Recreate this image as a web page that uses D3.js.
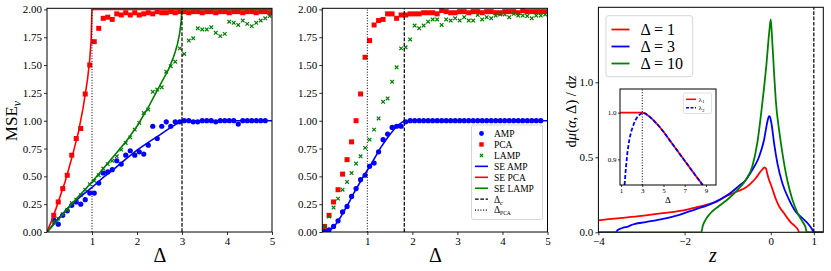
<!DOCTYPE html>
<html>
<head>
<meta charset="utf-8">
<script src="https://cdn.jsdelivr.net/npm/d3@7"></script>
<style>
  body { margin: 0; background: #fff; }
  svg { font-family: "Liberation Serif", "DejaVu Serif", serif; }
</style>
</head>
<body>
<svg id="chart" width="831" height="271"></svg>
<script>
// noise levels on the grid used by the simulations
const deltas = [0.05, 0.15, 0.25, 0.35, 0.45, 0.55, 0.65, 0.75, 0.85, 0.95,
  1.05, 1.15, 1.25, 1.35, 1.45, 1.55, 1.65, 1.75, 1.85, 1.95,
  2.05, 2.15, 2.25, 2.35, 2.45, 2.55, 2.65, 2.75, 2.85, 2.95,
  3.05, 3.15, 3.25, 3.35, 3.45, 3.55, 3.65, 3.75, 3.85, 3.95,
  4.05, 4.15, 4.25, 4.35, 4.45, 4.55, 4.65, 4.75, 4.85, 4.95];

// panel 1 (left)
const amp1 = [null, 0.11, 0.07, 0.15, 0.19, 0.24, 0.27, 0.25, 0.29, 0.35,
  0.35, 0.44, 0.53, 0.54, 0.56, 0.64, 0.61, 0.69, 0.73, 0.69,
  0.72, 0.70, 0.78, 0.95, 0.84, 0.95, 0.99, 0.95, 0.99, 0.99,
  1.00, 1.00, 0.99, 0.99, 1.00, 1.00, 1.00, 0.99, 1.00, 1.00,
  1.00, 1.00, 0.97, 1.00, 1.00, 1.00, 1.00, 1.00, 1.00, null];
const pca1 = [null, 0.15, 0.27, 0.39, 0.51, 0.69, 0.84, 0.93, 1.24, 1.50,
  1.71, 1.83, 1.92, 1.93, 1.91, 1.96, 1.95, 1.97, 1.95, 1.97,
  1.95, 1.96, 1.97, 1.96, 1.98, 1.97, 1.97, 1.98, 1.97, 1.98,
  1.98, 1.97, 1.98, 1.98, 1.97, 1.98, 1.98, 1.97, 1.98, 1.98,
  1.97, 1.98, 1.98, 1.97, 1.98, 1.98, 1.97, 1.98, 1.98, 1.97];
const lamp1 = [null, 0.09, 0.12, 0.16, 0.20, 0.26, 0.29, 0.33, 0.38, 0.43,
  0.46, 0.51, 0.57, 0.61, 0.64, 0.68, 0.74, 0.80, 0.85, 0.92,
  0.98, 1.07, 1.10, 1.26, 1.28, 1.30, 1.44, 1.49, 1.53, 1.65,
  1.60, 1.72, 1.74, 1.83, 1.82, 1.82, 1.84, 1.79, 1.76, 1.78,
  1.89, 1.88, 1.86, 1.90, 1.87, 1.85, 1.88, 1.90, 1.92, 1.94];
const seAmp1 = [[0, 0], [0.25, 0.12], [0.5, 0.23], [0.75, 0.32], [1, 0.40], [1.25, 0.49],
  [1.5, 0.57], [1.75, 0.655], [2, 0.735], [2.25, 0.805], [2.5, 0.87], [2.75, 0.94],
  [3, 1.0], [5, 1.0]];
const sePca1 = [[0, 0], [0.1, 0.1], [0.2, 0.21], [0.3, 0.33], [0.4, 0.45], [0.5, 0.59],
  [0.6, 0.74], [0.7, 0.90], [0.8, 1.11], [0.9, 1.37], [0.95, 1.55], [0.98, 1.72],
  [1.0, 2.0], [5, 2.0]];
const seLamp1 = [[0, 0], [0.25, 0.11], [0.5, 0.23], [0.75, 0.34], [1, 0.45], [1.25, 0.57],
  [1.5, 0.69], [1.75, 0.81], [2, 0.95], [2.25, 1.12], [2.5, 1.31], [2.7, 1.46],
  [2.8, 1.56], [2.85, 1.62], [2.9, 1.69], [2.95, 1.79], [2.98, 1.89], [3, 2.0], [5, 2.0]];
const deltaPca1 = 1, deltaC1 = 3;

// panel 2 (middle)
const amp2 = [0.01, 0.02, 0.05, 0.10, 0.18, 0.23, 0.32, 0.39, 0.47, 0.51,
  0.59, 0.62, 0.72, 0.83, 0.88, 0.94, 0.95, 0.95, 0.99, 1.00,
  1.00, 1.00, 1.00, 1.00, 1.00, 1.00, 1.00, 1.00, 1.00, 1.00,
  1.00, 1.00, 1.00, 1.00, 1.00, 1.00, 1.00, 1.00, 1.00, 1.00,
  1.00, 1.00, 1.00, 1.00, 1.00, 1.00, 1.00, 1.00, 1.00, null];
const pca2 = [0.05, 0.15, 0.27, 0.38, 0.52, 0.65, 0.81, 1.00, 1.24, 1.57,
  1.72, 1.86, 1.90, 1.91, 1.96, 1.96, 1.92, 1.95, 1.95, 1.96,
  1.96, 1.96, 1.97, 1.97, 1.97, 1.96, 1.99, 1.98, 1.97, 1.97,
  1.98, 1.98, 1.97, 1.98, 1.98, 1.97, 1.98, 1.98, 1.97, 1.97,
  1.98, 1.98, 1.98, 1.97, 1.99, 1.98, 1.98, 1.98, 1.98, 1.98];
const lamp2 = [0.05, 0.14, 0.22, 0.30, 0.38, 0.45, 0.53, 0.615, 0.68, 0.756,
  0.83, 0.92, 1.02, 1.17, 1.20, 1.35, 1.48, 1.65, 1.66, 1.73,
  1.855, 1.83, 1.855, 1.89, 1.91, 1.91, 1.86, 1.91, 1.90, 1.92,
  1.90, 1.93, 1.90, 1.90, 1.95, 1.91, 1.93, 1.92, 1.945, 1.955,
  1.955, 1.93, 1.96, 1.945, 1.945, 1.94, 1.92, 1.945, 1.945, 1.955];
const seAmp2 = [[0, 0], [0.1, 0.005], [0.2, 0.025], [0.3, 0.07], [0.4, 0.13], [0.5, 0.20],
  [0.6, 0.27], [0.7, 0.35], [0.8, 0.42], [0.9, 0.49], [1.0, 0.555], [1.1, 0.62],
  [1.2, 0.69], [1.3, 0.76], [1.4, 0.82], [1.5, 0.875], [1.6, 0.925], [1.7, 0.965],
  [1.82, 1.0], [5, 1.0]];
const deltaPca2 = 1, deltaC2 = 1.82;

// panel 3 (right): spectral densities
const density1 = [[-4.0, 0.08], [-3.5, 0.095], [-3.0, 0.11], [-2.5, 0.128], [-2.0, 0.148],
  [-1.75, 0.165], [-1.5, 0.183], [-1.25, 0.205], [-1.0, 0.245], [-0.75, 0.275],
  [-0.58, 0.298], [-0.45, 0.33], [-0.35, 0.36], [-0.25, 0.40], [-0.19, 0.42],
  [-0.15, 0.433], [-0.11, 0.425], [-0.08, 0.39], [-0.04, 0.35], [0, 0.32],
  [0.06, 0.27], [0.12, 0.22], [0.2, 0.17], [0.31, 0.127], [0.4, 0.09], [0.47, 0.064],
  [0.55, 0.045], [0.6, 0.03], [0.63, 0.018], [0.66, 0], [1.22, 0]];
const density3 = [[-4.0, 0], [-3.6, 0], [-3.55, 0.015], [-3.46, 0.027], [-3.3, 0.04],
  [-3.2, 0.052], [-2.9, 0.068], [-2.5, 0.09], [-2.14, 0.115], [-1.75, 0.153],
  [-1.36, 0.193], [-0.97, 0.255], [-0.74, 0.309], [-0.58, 0.349], [-0.43, 0.415],
  [-0.27, 0.504], [-0.156, 0.615], [-0.078, 0.737], [-0.04, 0.775], [-0.02, 0.77],
  [0.016, 0.727], [0.078, 0.593], [0.155, 0.46], [0.27, 0.327], [0.43, 0.215],
  [0.58, 0.137], [0.74, 0.093], [0.89, 0.049], [0.96, 0.02], [1.0, 0], [1.22, 0]];
const density10 = [[-4.0, 0], [-1.61, 0], [-1.58, 0.04], [-1.52, 0.08], [-1.4, 0.127],
  [-1.2, 0.175], [-0.97, 0.227], [-0.74, 0.293], [-0.58, 0.349], [-0.43, 0.437],
  [-0.31, 0.6], [-0.2, 0.85], [-0.1, 1.12], [-0.03, 1.35], [0, 1.42], [0.03, 1.3],
  [0.08, 1.05], [0.117, 0.88], [0.2, 0.67], [0.27, 0.53], [0.39, 0.34], [0.5, 0.22],
  [0.62, 0.13], [0.74, 0.07], [0.8, 0.04], [0.84, 0], [1.22, 0]];
const edgeZ = 1;

// inset: top eigenvalues
const lambda1 = [[0.9, 1.0], [3.0, 1.0], [3.3, 0.998], [3.6, 0.993], [4.0, 0.985],
  [4.5, 0.973], [5.0, 0.959], [6.0, 0.928], [7.0, 0.897], [8.0, 0.866], [8.7, 0.845]];
const lambda2 = [[1.33, 0.845], [1.45, 0.88], [1.6, 0.915], [1.8, 0.945], [2.0, 0.963],
  [2.3, 0.982], [2.6, 0.993], [3.0, 1.0], [3.3, 0.998], [3.6, 0.993], [4.0, 0.985],
  [4.5, 0.973], [5.0, 0.959], [6.0, 0.928], [7.0, 0.897], [8.0, 0.866], [8.7, 0.845]];
const insetDelta = 3;

const mseTicks = [0, 0.25, 0.5, 0.75, 1.0, 1.25, 1.5, 1.75, 2.0];
const deltaTicks = [1, 2, 3, 4, 5];
const zTicks = [-4, -2, 0, 1];
const densTicks = [0, 0.5, 1.0];
const insetXTicks = [1, 3, 5, 7, 9];
const insetYTicks = [0.9, 1.0];

const svg = d3.select('#chart');
const BLUE = '#0000ff', RED = '#ff0000', GREEN = '#008000';
const SERIF = '"Liberation Serif", "DejaVu Serif", serif';

function axes(g, x, y, xt, yt, xfmt, yfmt, fs, size) {
  const ax = g.append('g')
    .attr('transform', `translate(0,${y.range()[0]})`)
    .call(d3.axisBottom(x).tickValues(xt).tickFormat(xfmt).tickSize(size).tickPadding(size * 0.7));
  const ay = g.append('g')
    .attr('transform', `translate(${x.range()[0]},0)`)
    .call(d3.axisLeft(y).tickValues(yt).tickFormat(yfmt).tickSize(size).tickPadding(size * 0.7));
  [ax, ay].forEach(a => {
    a.attr('font-family', SERIF);
    a.select('.domain').remove();
    a.selectAll('text').style('font-size', fs + 'px').style('font-family', SERIF).attr('fill', '#000');
    a.selectAll('line').attr('stroke', '#000').attr('stroke-width', 0.8);
  });
}

function frame(g, x, y) {
  g.append('rect')
    .attr('x', x.range()[0]).attr('y', y.range()[1])
    .attr('width', x.range()[1] - x.range()[0])
    .attr('height', y.range()[0] - y.range()[1])
    .attr('fill', 'none').attr('stroke', '#000').attr('stroke-width', 1);
}

function clip(id, x, y) {
  svg.append('clipPath').attr('id', id).append('rect')
    .attr('x', x.range()[0]).attr('y', y.range()[1])
    .attr('width', x.range()[1] - x.range()[0])
    .attr('height', y.range()[0] - y.range()[1]);
  return `url(#${id})`;
}

function scatter(g, x, y, vals, kind, color) {
  const pts = deltas.map((d, i) => [d, vals[i]]).filter(p => p[1] != null);
  const sel = g.selectAll(null).data(pts).enter();
  if (kind === 'circle') {
    sel.append('circle').attr('cx', d => x(d[0])).attr('cy', d => y(d[1])).attr('r', 2.6).attr('fill', color);
  } else if (kind === 'square') {
    sel.append('rect').attr('x', d => x(d[0]) - 2.5).attr('y', d => y(d[1]) - 2.5)
      .attr('width', 5).attr('height', 5).attr('fill', color);
  } else {
    sel.append('path').attr('transform', d => `translate(${x(d[0])},${y(d[1])})`)
      .attr('d', 'M-1.8,-1.8L1.8,1.8M-1.8,1.8L1.8,-1.8').attr('stroke', color).attr('stroke-width', 1.2).attr('fill', 'none');
  }
}

function curve(g, x, y, pts, color, w, dash, c) {
  const line = d3.line().x(d => x(d[0])).y(d => y(d[1])).curve(c || d3.curveLinear);
  g.append('path').datum(pts).attr('d', line).attr('fill', 'none')
    .attr('stroke', color).attr('stroke-width', w).attr('stroke-dasharray', dash || null);
}

function vline(g, x, y, v, dash, w) {
  g.append('line').attr('x1', x(v)).attr('x2', x(v))
    .attr('y1', y.range()[0]).attr('y2', y.range()[1])
    .attr('stroke', '#000').attr('stroke-width', w).attr('stroke-dasharray', dash);
}

const DOT = '1,1.7', DASH = '3.7,1.6';
const f2 = d3.format('.2f'), f1 = d3.format('.1f');
const minus = d => (d < 0 ? '\u2212' + Math.abs(d) : String(d));

// ---------- panel 1 ----------
{
  const x = d3.scaleLinear().domain([0, 5]).range([47, 272]);
  const y = d3.scaleLinear().domain([0, 2.01]).range([232, 8.3]);
  const g = svg.append('g');
  const inner = g.append('g').attr('clip-path', clip('c1', x, y));
  scatter(inner, x, y, amp1, 'circle', BLUE);
  scatter(inner, x, y, pca1, 'square', RED);
  scatter(inner, x, y, lamp1, 'x', GREEN);
  curve(inner, x, y, seAmp1, BLUE, 1.6);
  curve(inner, x, y, sePca1, RED, 1.6);
  curve(inner, x, y, seLamp1, GREEN, 1.6);
  vline(inner, x, y, deltaPca1, DOT, 1);
  vline(inner, x, y, deltaC1, DASH, 1.2);
  frame(g, x, y);
  axes(g, x, y, deltaTicks, mseTicks, String, f2, 11, 3);
  g.append('text').attr('x', 160).attr('y', 262).attr('text-anchor', 'middle')
    .style('font-size', '20px').text('\u0394');
  const yl = g.append('text').attr('transform', 'translate(17,121) rotate(-90)')
    .attr('text-anchor', 'middle').style('font-size', '17px');
  yl.append('tspan').text('MSE');
  yl.append('tspan').attr('dy', 4).style('font-size', '12px').style('font-style', 'italic').text('v');
}

// ---------- panel 2 ----------
{
  const x = d3.scaleLinear().domain([0, 5]).range([322.3, 547.5]);
  const y = d3.scaleLinear().domain([0, 2.01]).range([232, 8.3]);
  const g = svg.append('g');
  const inner = g.append('g').attr('clip-path', clip('c2', x, y));
  scatter(inner, x, y, amp2, 'circle', BLUE);
  scatter(inner, x, y, pca2, 'square', RED);
  scatter(inner, x, y, lamp2, 'x', GREEN);
  curve(inner, x, y, seAmp2, BLUE, 1.6);
  vline(inner, x, y, deltaPca2, DOT, 1);
  vline(inner, x, y, deltaC2, DASH, 1.2);
  frame(g, x, y);
  axes(g, x, y, deltaTicks, mseTicks, String, f2, 11, 3);
  g.append('text').attr('x', 435.5).attr('y', 262).attr('text-anchor', 'middle')
    .style('font-size', '20px').text('\u0394');

  // legend
  const lg = g.append('g');
  lg.append('rect').attr('x', 471.5).attr('y', 125).attr('width', 71).attr('height', 94.5)
    .attr('rx', 2).attr('fill', '#fff').attr('fill-opacity', 0.8).attr('stroke', '#ccc').attr('stroke-width', 0.8);
  const rows = [
    { label: 'AMP', kind: 'circle', color: BLUE },
    { label: 'PCA', kind: 'square', color: RED },
    { label: 'LAMP', kind: 'x', color: GREEN },
    { label: 'SE AMP', kind: 'line', color: BLUE },
    { label: 'SE PCA', kind: 'line', color: RED },
    { label: 'SE LAMP', kind: 'line', color: GREEN },
    { label: '\u0394', sub: 'c', kind: 'dash', color: '#000' },
    { label: '\u0394', sub: 'PCA', kind: 'dot', color: '#000' }
  ];
  rows.forEach((r, i) => {
    const yy = 133.5 + i * 10.95;
    if (r.kind === 'circle') lg.append('circle').attr('cx', 481.5).attr('cy', yy).attr('r', 2.4).attr('fill', r.color);
    else if (r.kind === 'square') lg.append('rect').attr('x', 479.3).attr('y', yy - 2.2).attr('width', 4.4).attr('height', 4.4).attr('fill', r.color);
    else if (r.kind === 'x') lg.append('path').attr('transform', `translate(481.5,${yy})`).attr('d', 'M-1.6,-1.6L1.6,1.6M-1.6,1.6L1.6,-1.6').attr('stroke', r.color).attr('stroke-width', 1.1);
    else lg.append('line').attr('x1', 475).attr('x2', 488).attr('y1', yy).attr('y2', yy)
      .attr('stroke', r.color).attr('stroke-width', r.kind === 'line' ? 1.6 : 1.2)
      .attr('stroke-dasharray', r.kind === 'dash' ? DASH : r.kind === 'dot' ? DOT : null);
    const t = lg.append('text').attr('x', 494).attr('y', yy + 3.3).style('font-size', '9.5px').text(r.label);
    if (r.sub) t.append('tspan').attr('dy', 2).style('font-size', r.sub === 'c' ? '7px' : '5.5px')
      .style('font-style', r.sub === 'c' ? 'italic' : 'normal').text(r.sub);
  });
}

// ---------- panel 3 ----------
{
  const x = d3.scaleLinear().domain([-4, 1.22]).range([598.4, 823.3]);
  const y = d3.scaleLinear().domain([0, 1.5]).range([232.3, 7.3]);
  const g = svg.append('g');
  const inner = g.append('g').attr('clip-path', clip('c3', x, y));
  curve(inner, x, y, density1, RED, 1.8, null, d3.curveMonotoneX);
  curve(inner, x, y, density3, BLUE, 1.8, null, d3.curveMonotoneX);
  curve(inner, x, y, density10, GREEN, 1.8, null, d3.curveMonotoneX);
  vline(inner, x, y, edgeZ, DASH, 1.2);
  frame(g, x, y);
  axes(g, x, y, zTicks, densTicks, minus, f1, 11, 3);
  g.append('text').attr('x', 713).attr('y', 262).attr('text-anchor', 'middle')
    .style('font-size', '20px').style('font-style', 'italic').text('z');
  const yl = g.append('text').attr('transform', 'translate(576,111.5) rotate(-90)')
    .attr('text-anchor', 'middle').style('font-size', '14.5px');
  yl.append('tspan').text('d');
  yl.append('tspan').style('font-style', 'italic').text('\u03bc');
  yl.append('tspan').text('(');
  yl.append('tspan').style('font-style', 'italic').text('\u03b1');
  yl.append('tspan').text(', \u0394) / d');
  yl.append('tspan').style('font-style', 'italic').text('z');

  // legend
  const lg = g.append('g');
  lg.append('rect').attr('x', 606).attr('y', 15.7).attr('width', 86.7).attr('height', 61)
    .attr('rx', 2.5).attr('fill', '#fff').attr('fill-opacity', 0.8).attr('stroke', '#ccc').attr('stroke-width', 0.8);
  [['1', RED], ['3', BLUE], ['10', GREEN]].forEach((r, i) => {
    const yy = 29.5 + i * 17;
    lg.append('line').attr('x1', 611.5).attr('x2', 629.5).attr('y1', yy).attr('y2', yy)
      .attr('stroke', r[1]).attr('stroke-width', 1.8);
    lg.append('text').attr('x', 640.5).attr('y', yy + 5.3).style('font-size', '16px')
      .text('\u0394 = ' + r[0]);
  });

  // inset
  const ix = d3.scaleLinear().domain([0.9, 9.95]).range([620, 716]);
  const iy = d3.scaleLinear().domain([0.845, 1.0507]).range([185, 89]);
  const ig = g.append('g');
  ig.append('rect').attr('x', 620).attr('y', 89).attr('width', 96).attr('height', 96).attr('fill', '#fff');
  const iin = ig.append('g').attr('clip-path', clip('c4', ix, iy));
  curve(iin, ix, iy, lambda1, RED, 1.8);
  curve(iin, ix, iy, lambda2, BLUE, 1.8, '4,2');
  vline(iin, ix, iy, insetDelta, DOT, 1);
  frame(ig, ix, iy);
  axes(ig, ix, iy, insetXTicks, insetYTicks, String, f1, 7, 2);
  ig.append('text').attr('x', 668).attr('y', 203).attr('text-anchor', 'middle')
    .style('font-size', '9px').text('\u0394');
  const il = ig.append('g');
  il.append('rect').attr('x', 683.5).attr('y', 93).attr('width', 28).attr('height', 20.5)
    .attr('rx', 1.5).attr('fill', '#fff').attr('fill-opacity', 0.8).attr('stroke', '#ccc').attr('stroke-width', 0.6);
  [['1', RED, null], ['2', BLUE, '3,1.5']].forEach((r, i) => {
    const yy = 99.3 + i * 8.5;
    il.append('line').attr('x1', 686).attr('x2', 696).attr('y1', yy).attr('y2', yy)
      .attr('stroke', r[1]).attr('stroke-width', 1.5).attr('stroke-dasharray', r[2]);
    const t = il.append('text').attr('x', 698.5).attr('y', yy + 2.3).style('font-size', '7px').text('\u03bb');
    t.append('tspan').attr('dy', 1.5).style('font-size', '5px').text(r[0]);
  });
}
</script>
</body>
</html>
